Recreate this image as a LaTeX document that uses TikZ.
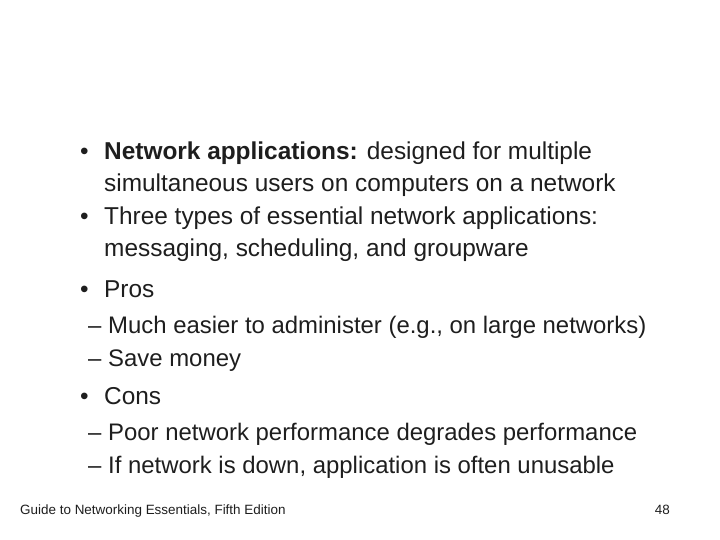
\documentclass[tikz,border=0pt]{standalone}
\usepackage{fontspec}
\setmainfont{Liberation Sans}
\definecolor{txt}{HTML}{1E1E1E}
\begin{document}
\begin{tikzpicture}[x=1bp,y=-1bp,
  t/.style={anchor=base west,inner sep=0,text=txt,font=\fontsize{24.5}{28}\selectfont},
  s/.style={anchor=base west,inner sep=0,text=txt,font=\fontsize{24}{28}\selectfont},
  f/.style={inner sep=0,text=txt,font=\fontsize{13.5}{16}\selectfont}]
\useasboundingbox[fill=white] (0,0) rectangle (720,540);
\node[t] (b1) at (80,160) {•};
\node[t] (l1) at (104,160) {\textbf{Network applications:} designed for multiple};
\node[t] (l2) at (104,192) {simultaneous users on computers on a network};
\node[t] (b2) at (80,225) {•};
\node[t] (l3) at (104,225) {Three types of essential network applications:};
\node[t] (l4) at (104,257) {messaging, scheduling, and groupware};
\node[t] (b3) at (80,297) {•};
\node[t] (l5) at (104,297) {Pros};
\node[s] (d1) at (88,333) {–};
\node[s] (l6) at (108,333) {Much easier to administer (e.g., on large networks)};
\node[s] (d2) at (88,366) {–};
\node[s] (l7) at (108,366) {Save money};
\node[t] (b4) at (80,404) {•};
\node[t] (l8) at (104,404) {Cons};
\node[s] (d3) at (88,440) {–};
\node[s] (l9) at (108,440) {Poor network performance degrades performance};
\node[s] (d4) at (88,473) {–};
\node[s] (l10) at (108,473) {If network is down, application is often unusable};
\node[f,anchor=base west] (ft) at (20,514) {Guide to Networking Essentials, Fifth Edition};
\node[f,anchor=base east] (pg) at (670,514) {48};
\end{tikzpicture}
\end{document}
